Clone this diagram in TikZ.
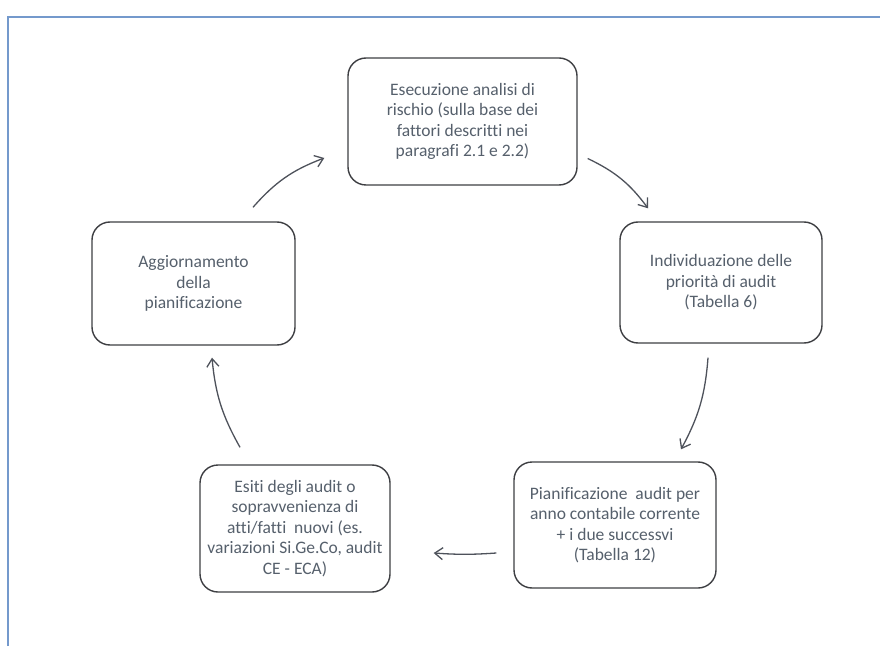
\documentclass[tikz,border=0pt]{standalone}
\usepackage{fontspec}
\setmainfont{Carlito}[Ligatures=NoCommon]
\usetikzlibrary{arrows.meta,calc}
\definecolor{framecol}{HTML}{7499CC}
\definecolor{boxcol}{HTML}{3E3F43}
\definecolor{txtcol}{HTML}{56606C}
\definecolor{arrcol}{HTML}{4E525B}
\begin{document}
\begin{tikzpicture}[x=1pt, y=1pt,
        stage/.style = {rectangle,
                rounded corners = 18pt,
                draw = boxcol,
                line width = 1.4pt,
                text = txtcol,
                fill = white,
                align = center,
                inner sep = 0pt,
                font = \fontsize{17.5}{20.5}\selectfont},
        flow/.style = {-{Straight Barb[length=8pt, width=12pt, line width=1.3pt]},
                draw = arrcol,
                line width = 1.3pt}]
        \useasboundingbox (0,0) rectangle (880,646);
        % ---------------------------------------------------------------------------
        % Draw frame
        % ---------------------------------------------------------------------------
        \fill[white] (0,0) rectangle (880,646);
        \draw[framecol, line width = 1.5pt] (8,0) -- (8,629) -- (880,629);

        % ---------------------------------------------------------------------------
        % Draw nodes
        % ---------------------------------------------------------------------------
        \node[  stage,
                minimum width = 229pt,
                minimum height = 127pt]  (Rischio) at (462.5,524.5)
                {Esecuzione analisi di\\rischio (sulla base dei\\fattori descritti nei\\paragrafi 2.1 e 2.2)};

        \node[  stage,
                minimum width = 202pt,
                minimum height = 121pt]  (Priorita) at (721,363.5)
                {Individuazione delle\\priorità di audit\\(Tabella 6)};

        \node[  stage,
                minimum width = 202pt,
                minimum height = 126pt]  (Pianificazione) at (615,121)
                {Pianificazione~ audit per\\anno contabile corrente\\+ i due successvi\\(Tabella 12)};

        \node[  stage,
                minimum width = 190pt,
                minimum height = 127pt]  (Esiti) at (295,117.5)
                {Esiti degli audit o\\sopravvenienza di\\atti/fatti~ nuovi (es.\\variazioni Si.Ge.Co, audit\\CE - ECA)};

        \node[  stage,
                minimum width = 203pt,
                minimum height = 123pt]  (Aggiornamento) at (193.5,362.5)
                {Aggiornamento\\della\\pianificazione};

        % ---------------------------------------------------------------------------
        % Draw arrows
        % ---------------------------------------------------------------------------
        \draw [flow] ($(Aggiornamento.north)+(59.5,14)$)  to[bend left=14] ($(Rischio.west)+(-23,-36.5)$);        % Aggiornamento
        \draw [flow] ($(Rischio.east)+(10,-37)$)           to[bend left=14] ($(Priorita.north)+(-73,13)$);        % Rischio
        \draw [flow] ($(Priorita.south)+(-13,-14)$)        to[bend left=12] ($(Pianificazione.north)+(66,12)$);   % Priorita
        \draw [flow] ($(Pianificazione.west)+(-17,-28)$)   to[bend left=4]  ($(Esiti.east)+(43,-24.5)$);          % Pianificazione
        \draw [flow] ($(Esiti.north)+(-55,17)$)            to[bend left=12] ($(Aggiornamento.south)+(18.5,-12)$); % Esiti

    \end{tikzpicture}
\end{document}
